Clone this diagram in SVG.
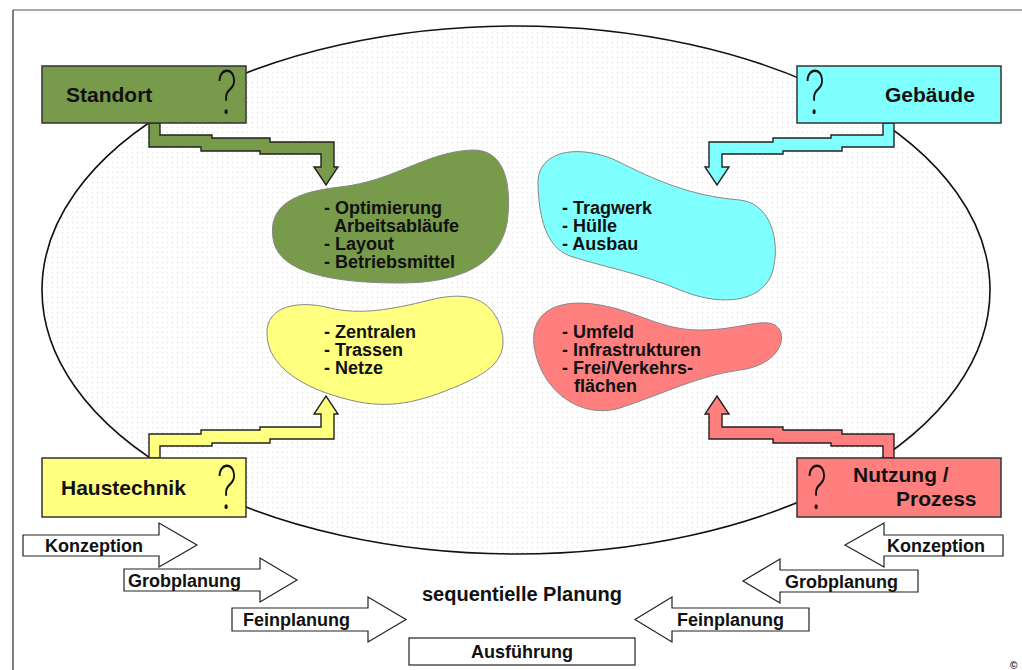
<svg xmlns="http://www.w3.org/2000/svg" width="1022" height="670" viewBox="0 0 1022 670">
  <defs>
    <pattern id="dots" width="5" height="5" patternUnits="userSpaceOnUse">
      <rect width="5" height="5" fill="#ffffff"/>
      <circle cx="2.5" cy="2.5" r="0.7" fill="#e0e0e0"/>
    </pattern>
    <style>
      .lbl { font-family: "Liberation Sans", Arial, sans-serif; font-weight: bold; fill: #111; }
      .box { stroke: #333; stroke-width: 1.5; }
      .step { stroke: #222; stroke-width: 1.4; stroke-linejoin: miter; }
      .blob { stroke: #888; stroke-width: 1; }
      .phase { fill: #ffffff; stroke: #222; stroke-width: 1.2; }
      .q { font-family: "Inter", "DejaVu Sans", sans-serif; font-weight: 200; font-size: 60px; fill: #111; }
      .green { fill: #779a4b; }
      .cyan { fill: #80ffff; }
      .yellow { fill: #ffff80; }
      .red { fill: #ff7f7f; }
    </style>
  </defs>

  <rect width="1022" height="670" fill="#ffffff"/>

  <!-- page frame -->
  <line x1="13" y1="10" x2="1022" y2="10" stroke="#aaaaaa" stroke-width="2"/>
  <line x1="13" y1="10" x2="13" y2="670" stroke="#555555" stroke-width="1.5"/>

  <!-- planning field -->
  <ellipse cx="516" cy="290" rx="474" ry="264" fill="url(#dots)" stroke="#111" stroke-width="1.6"/>

  <!-- topic areas -->
  <g id="blob-betrieb">
    <path class="blob green" d="M273,238 C268,205 295,192 340,187 C395,181 425,152 472,150 C503,149 511,180 508,215 C505,256 472,283 400,283 C330,283 277,272 273,238 Z"/>
    <text class="lbl" font-size="18"><tspan x="324" y="214">- Optimierung</tspan><tspan x="334" y="232">Arbeitsabläufe</tspan><tspan x="324" y="250">- Layout</tspan><tspan x="324" y="268">- Betriebsmittel</tspan></text>
  </g>
  <g id="blob-bau">
    <path class="blob cyan" d="M538,185 C536,152 575,143 615,160 C655,180 690,196 740,200 C775,204 781,250 771,276 C757,305 716,305 680,290 C640,273 600,266 570,256 C545,247 539,215 538,185 Z"/>
    <text class="lbl" font-size="18"><tspan x="562" y="214">- Tragwerk</tspan><tspan x="562" y="232">- Hülle</tspan><tspan x="562" y="250">- Ausbau</tspan></text>
  </g>
  <g id="blob-technik">
    <path class="blob yellow" d="M267,335 C265,305 300,300 330,308 C360,315 390,310 430,300 C470,290 490,300 500,325 C510,355 495,370 460,385 C420,402 390,410 350,400 C300,388 268,365 267,335 Z"/>
    <text class="lbl" font-size="18"><tspan x="324" y="338">- Zentralen</tspan><tspan x="324" y="356">- Trassen</tspan><tspan x="324" y="374">- Netze</tspan></text>
  </g>
  <g id="blob-umfeld">
    <path class="blob red" d="M534,345 C530,310 560,298 600,305 C640,312 660,330 700,330 C740,330 760,318 775,325 C790,335 780,365 740,370 C700,375 660,395 620,408 C580,420 540,390 534,345 Z"/>
    <text class="lbl" font-size="18"><tspan x="562" y="338">- Umfeld</tspan><tspan x="562" y="356">- Infrastrukturen</tspan><tspan x="562" y="374">- Frei/Verkehrs-</tspan><tspan x="574" y="392">flächen</tspan></text>
  </g>

  <!-- stepped connectors -->
  <g id="connectors">
    <path class="step green" d="M160,123 L160,135 L212,135 L212,138 L270,138 L270,142 L334,142 L334,167 L338,167 L326,185 L314,167 L321,167 L321,154 L260,154 L260,151 L201,151 L201,147 L149,147 L149,123 Z"/>
    <path class="step cyan" d="M883,123 L883,135 L831,135 L831,138 L773,138 L773,142 L709,142 L709,167 L705,167 L717,185 L729,167 L722,167 L722,154 L783,154 L783,151 L842,151 L842,147 L894,147 L894,123 Z"/>
    <path class="step yellow" d="M160,458 L160,446 L212,446 L212,443 L270,443 L270,439 L334,439 L334,414 L338,414 L326,396 L314,414 L321,414 L321,427 L260,427 L260,430 L201,430 L201,434 L149,434 L149,458 Z"/>
    <path class="step red" d="M883,458 L883,446 L831,446 L831,443 L773,443 L773,439 L709,439 L709,414 L705,414 L717,396 L729,414 L722,414 L722,427 L783,427 L783,430 L842,430 L842,434 L894,434 L894,458 Z"/>
  </g>

  <!-- factor boxes -->
  <g id="standort">
    <rect class="box green" x="42" y="66" width="204" height="57"/>
    <text class="lbl" x="66" y="102" font-size="21">Standort</text>
    <text class="q" text-anchor="middle" transform="translate(227,114) scale(0.7,1)">?</text>
  </g>
  <g id="gebaeude">
    <rect class="box cyan" x="797" y="66" width="204" height="57"/>
    <text class="lbl" x="885" y="102" font-size="21">Gebäude</text>
    <text class="q" text-anchor="middle" transform="translate(815,114) scale(0.7,1)">?</text>
  </g>
  <g id="haustechnik">
    <rect class="box yellow" x="42" y="458" width="204" height="59"/>
    <text class="lbl" x="61" y="495" font-size="21">Haustechnik</text>
    <text class="q" text-anchor="middle" transform="translate(227,509) scale(0.7,1)">?</text>
  </g>
  <g id="nutzung">
    <rect class="box red" x="797" y="458" width="204" height="59"/>
    <text class="lbl" font-size="21"><tspan x="853" y="482">Nutzung /</tspan><tspan x="896" y="506">Prozess</tspan></text>
    <text class="q" text-anchor="middle" transform="translate(817,509) scale(0.7,1)">?</text>
  </g>

  <!-- planning phases -->
  <g id="phasen-links">
    <path class="phase" d="M23,535 L159,535 L159,523 L197,545 L159,567 L159,556 L23,556 Z"/>
    <text class="lbl" x="45" y="552" font-size="18">Konzeption</text>
    <path class="phase" d="M124,569 L260,569 L260,558 L297,580 L260,602 L260,591 L124,591 Z"/>
    <text class="lbl" x="128" y="587" font-size="18">Grobplanung</text>
    <path class="phase" d="M232,608 L368,608 L368,597 L406,619.5 L368,642 L368,631 L232,631 Z"/>
    <text class="lbl" x="243" y="626" font-size="18">Feinplanung</text>
  </g>
  <g id="phasen-rechts">
    <path class="phase" d="M1003,535 L884,535 L884,523 L845,545 L884,567 L884,556 L1003,556 Z"/>
    <text class="lbl" x="887" y="552" font-size="18">Konzeption</text>
    <path class="phase" d="M918,570 L780,570 L780,559 L743,581 L780,603 L780,592 L918,592 Z"/>
    <text class="lbl" x="785" y="588" font-size="18">Grobplanung</text>
    <path class="phase" d="M809,608 L672,608 L672,597 L635,619.5 L672,642 L672,631 L809,631 Z"/>
    <text class="lbl" x="677" y="626" font-size="18">Feinplanung</text>
  </g>
  <g id="ausfuehrung">
    <rect class="phase" x="409" y="638" width="226" height="27"/>
    <text class="lbl" x="522" y="658" font-size="18" text-anchor="middle">Ausführung</text>
  </g>
  <text id="titel" class="lbl" x="522" y="601" font-size="20" text-anchor="middle">sequentielle Planung</text>

  <text class="lbl" x="1010" y="669" font-size="10" font-weight="normal">©</text>
</svg>
